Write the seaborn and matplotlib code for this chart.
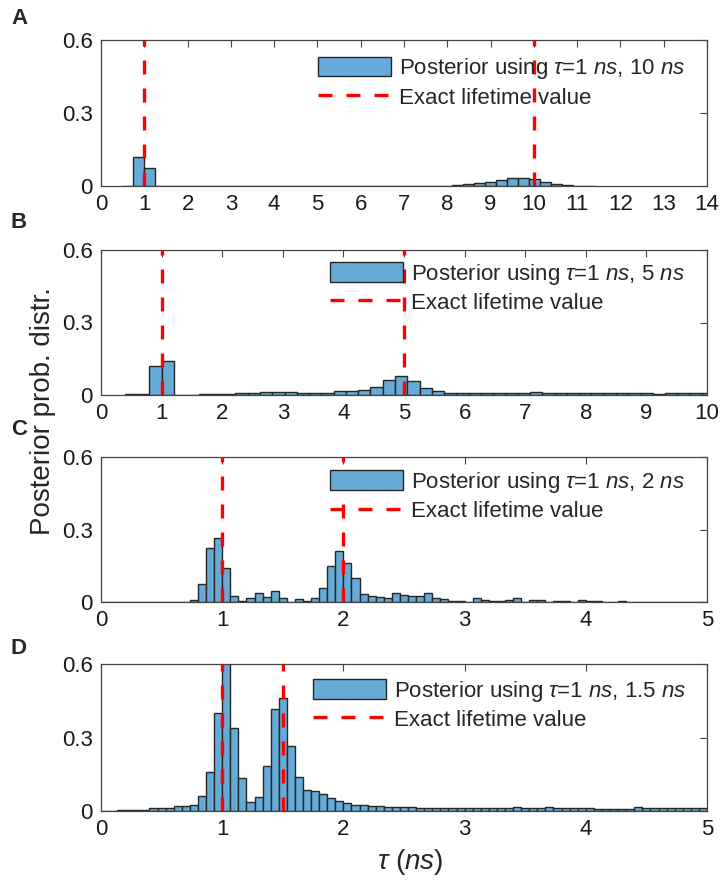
import numpy as np
import pandas as pd
import matplotlib
matplotlib.use("Agg")
import matplotlib.pyplot as plt
import seaborn as sns
from matplotlib.patches import Patch
from matplotlib.lines import Line2D

# ---------------- data ----------------
# Panel A: tau = 1 ns, 10 ns
a_bin_start = 0.492
a_bin_width = 0.254
a_prob = [0.002, 0.120, 0.074, 0.002] + [0.0] * 25 + [
    0.002, 0.003, 0.007, 0.011, 0.018, 0.026, 0.033, 0.034, 0.029, 0.018,
    0.010, 0.004, 0.001, 0.0005]
a_lifetimes = [1, 10]
a_label = r"Posterior using $\tau$=1 $ns$, 10 $ns$"
a_xticks = list(range(0, 15))

# Panel B: tau = 1 ns, 5 ns
b_bin_start = 0.395
b_bin_width = 0.2026
b_prob = [0.003, 0.006, 0.119, 0.140, 0.002, 0.002, 0.004, 0.005, 0.005, 0.009,
          0.010, 0.013, 0.013, 0.011, 0.009, 0.009, 0.010, 0.016, 0.016, 0.022,
          0.035, 0.064, 0.077, 0.058, 0.031, 0.015, 0.010, 0.009, 0.008, 0.008,
          0.008, 0.008, 0.008, 0.011, 0.008, 0.008, 0.008, 0.010, 0.009, 0.008,
          0.008, 0.008, 0.008, 0.006, 0.007, 0.007, 0.008, 0.008]
b_lifetimes = [1, 5]
b_label = r"Posterior using $\tau$=1 $ns$, 5 $ns$"
b_xticks = list(range(0, 11))

# Panel C: tau = 1 ns, 2 ns
c_bin_start = 0.0
c_bin_width = 1 / 15
c_prob = [0.0] * 11 + [
    0.008, 0.073, 0.225, 0.265, 0.141, 0.023, 0.006, 0.015, 0.036, 0.021,
    0.044, 0.017, 0.001, 0.012, 0.003, 0.015, 0.057, 0.148, 0.211, 0.160,
    0.098, 0.034, 0.025, 0.022, 0.015, 0.039, 0.030, 0.023, 0.023, 0.039,
    0.017, 0.012, 0.006, 0.006, 0.001, 0.018, 0.008, 0.004, 0.003, 0.010,
    0.015, 0.001, 0.008, 0.007, 0.001, 0.006, 0.006, 0.001, 0.010, 0.004,
    0.003, 0.001, 0.001, 0.006] + [0.001] * 10
c_lifetimes = [1, 2]
c_label = r"Posterior using $\tau$=1 $ns$, 2 $ns$"
c_xticks = list(range(0, 6))

# Panel D: tau = 1 ns, 1.5 ns
d_bin_start = 0.0
d_bin_width = 1 / 15
d_prob = [0.001, 0.001, 0.003, 0.005, 0.004, 0.005, 0.011, 0.011, 0.014, 0.019,
          0.022, 0.026, 0.061, 0.160, 0.402, 0.650, 0.338, 0.134, 0.038, 0.057,
          0.185, 0.416, 0.460, 0.265, 0.137, 0.086, 0.081, 0.070, 0.052, 0.040,
          0.033, 0.026, 0.023, 0.019, 0.019, 0.018, 0.015, 0.015, 0.018, 0.014,
          0.014, 0.014, 0.014, 0.011, 0.012, 0.011, 0.014, 0.012, 0.012, 0.012,
          0.012, 0.015, 0.011, 0.014, 0.012, 0.015, 0.012, 0.012, 0.012, 0.012,
          0.012, 0.008, 0.008, 0.010, 0.010, 0.010, 0.016, 0.014, 0.014, 0.014,
          0.014, 0.011, 0.011, 0.012, 0.012]
d_lifetimes = [1, 1.5]
d_label = r"Posterior using $\tau$=1 $ns$, 1.5 $ns$"
d_xticks = list(range(0, 6))

legend_line_label = "Exact lifetime value"
y_ticks = [0, 0.3, 0.6]
y_ticklabels = ["0", "0.3", "0.6"]
panel_letters = ["A", "B", "C", "D"]

# ---------------- style ----------------
sns.set_style("white")
plt.rcParams["font.family"] = ["Liberation Sans", "DejaVu Sans"]
plt.rcParams["mathtext.fontset"] = "custom"
plt.rcParams["mathtext.rm"] = "Liberation Sans"
plt.rcParams["mathtext.it"] = "Liberation Sans:italic"
plt.rcParams["mathtext.bf"] = "Liberation Sans:bold"

BAR = "#66aad7"
EDGE = "#262626"
AX = "#444444"
TICK_FS = 16
LEG_FS = 16
LAB_FS = 20

fig = plt.figure(figsize=(7.2, 8.82), dpi=100)
W, H = 720, 882


def ax_rect(left, top, right, bottom):
    return [left / W, 1 - bottom / H, (right - left) / W, (bottom - top) / H]


rects = [ax_rect(101, 40, 707, 186), ax_rect(101, 250, 707, 395),
         ax_rect(101, 457, 707, 602), ax_rect(101, 664, 707, 811)]
panels = [
    (a_bin_start, a_bin_width, a_prob, a_lifetimes, a_label, a_xticks, (0.358, 0.89)),
    (b_bin_start, b_bin_width, b_prob, b_lifetimes, b_label, b_xticks, (0.378, 0.92)),
    (c_bin_start, c_bin_width, c_prob, c_lifetimes, c_label, c_xticks, (0.378, 0.91)),
    (d_bin_start, d_bin_width, d_prob, d_lifetimes, d_label, d_xticks, (0.350, 0.90)),
]
letter_y = [18, 222, 430, 648]

for rect, (start, width, prob, lifes, lab, xticks, lpos), ly, letter in zip(
        rects, panels, letter_y, panel_letters):
    ax = fig.add_axes(rect)
    n = len(prob)
    centers = start + width * (np.arange(n) + 0.5)
    df = pd.DataFrame({"tau": centers, "p": prob})
    sns.histplot(data=df, x="tau", weights="p", binwidth=width,
                 binrange=(start, start + width * n), ax=ax,
                 color=BAR, alpha=1.0, edgecolor=EDGE, linewidth=1.0)
    for t in lifes:
        ax.plot([t, t], [0, 0.6], color="red", lw=2.4, dashes=(4.2, 4.2),
                zorder=5)
    ax.set_xlim(xticks[0], xticks[-1])
    ax.set_ylim(0, 0.6)
    ax.set_xticks(xticks)
    ax.set_xticklabels([str(v) for v in xticks])
    ax.set_yticks(y_ticks)
    ax.set_yticklabels(y_ticklabels)
    ax.set_xlabel("")
    ax.set_ylabel("")
    ax.tick_params(direction="in", length=5, width=0.8, color=AX,
                   top=True, right=True, labelsize=TICK_FS,
                   labelcolor="#1a1a1a")
    ax.tick_params(axis="x", pad=6)
    ax.tick_params(axis="y", pad=6)
    for s in ax.spines.values():
        s.set_color(AX)
        s.set_linewidth(0.9)
        s.set_visible(True)
    handles = [Patch(facecolor=BAR, edgecolor=EDGE, linewidth=1.0),
               Line2D([0], [0], color="red", lw=2.4, dashes=(4.2, 4.2))]
    ax.legend(handles, [lab, legend_line_label], loc="upper left",
              bbox_to_anchor=lpos, frameon=False, fontsize=LEG_FS,
              handlelength=3.3, handleheight=1.0, handletextpad=0.35,
              labelspacing=0.22, borderpad=0, borderaxespad=0)
    fig.text(11 / W, 1 - ly / H, letter, fontsize=16, fontweight="bold",
             ha="left", va="center")

fig.text(43 / W, 1 - 411 / H, "Posterior prob. distr.", rotation=90,
         fontsize=LAB_FS, ha="center", va="center")
fig.text(410 / W, 1 - 862 / H, r"$\tau$ ($ns$)", fontsize=LAB_FS,
         ha="center", va="center")

fig.savefig("out.png", dpi=100)
